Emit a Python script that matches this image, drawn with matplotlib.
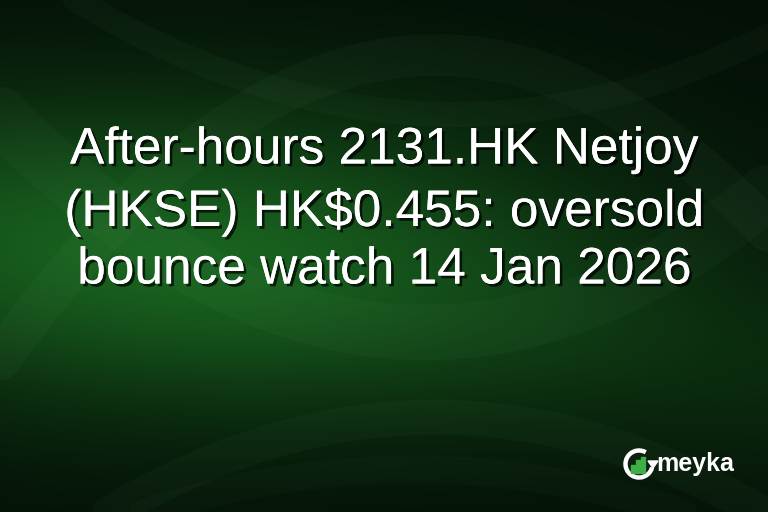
import numpy as np
import matplotlib
matplotlib.use("Agg")
import matplotlib.pyplot as plt
import matplotlib.patheffects as pe
from matplotlib.patches import Arc, Rectangle, Polygon

# Banner text
title_lines = ["After-hours 2131.HK Netjoy", "(HKSE) HK$0.455: oversold", "bounce watch 14 Jan 2026"]
title_y = [150, 212, 270]
brand = "meyka"
logo_bars = [0.45, 0.75, 0.95, 0.6]

W, H = 768, 512
fig = plt.figure(figsize=(W / 100, H / 100), dpi=100)
ax = fig.add_axes([0, 0, 1, 1])
ax.set_xlim(0, W)
ax.set_ylim(H, 0)
ax.axis("off")

# background gradient: dark top/bottom, green glow centre-left
yy, xx = np.mgrid[0:H, 0:W]
glow = np.exp(-((xx - 180) / 430.0) ** 2 - ((yy - 255) / 165.0) ** 2)
band = np.exp(-((yy - 0.18 * xx - 230) / 120.0) ** 2)
v = 0.6 * glow + 0.2 * band
v = np.clip(v, 0, 1)
dark = np.array([0.015, 0.06, 0.025])
green = np.array([0.12, 0.47, 0.15])
img = dark + v[..., None] * (green - dark)
ax.imshow(img, extent=[0, W, H, 0], aspect="auto", zorder=0)

# soft swooshes
xs = np.linspace(0, W, 300)
for a, b, c, lw, al in [(60, 0.0016, -0.9, 30, 0.035), (330, -0.0012, 0.55, 40, 0.03),
                        (420, 0.0009, -0.5, 25, 0.03), (110, -0.0008, 0.6, 18, 0.03),
                        (470, 0.0006, -0.2, 20, 0.025)]:
    ax.plot(xs, a + b * (xs - 380) ** 2 + c * (xs - 380) * 0.2, color="#9fe0a0",
            lw=lw, alpha=al, solid_capstyle="round", zorder=1)

# title text with shadow
for line, y in zip(title_lines, title_y):
    ax.text(W / 2, y, line, ha="center", va="center", color="white",
            fontsize=37, family="Liberation Sans", zorder=5,
            path_effects=[pe.withSimplePatchShadow(offset=(2, -2), shadow_rgbFace="black", alpha=0.7),
                          pe.Normal()])

# logo
cx, cy, r = 639, 464, 13.5
ax.add_patch(Arc((cx, cy), 2 * r, 2 * r, theta1=-345, theta2=-60, color="white", lw=3.2, zorder=6))
ax.add_patch(Polygon([[cx + 9, cy - 3], [cx + 19, cy - 3], [cx + 14, cy + 4]],
                     closed=True, color="white", zorder=6))
bw = 4.0
for i, h in enumerate(logo_bars[:3]):
    x0 = cx - 8 + i * (bw + 1.0)
    ax.add_patch(Rectangle((x0, cy + 9), bw, -17 * h, color="#3fae49", zorder=6))
ax.text(656, 464, brand, ha="left", va="center", color="white", fontsize=18,
        fontweight="bold", family="Liberation Sans", zorder=6)

fig.savefig("out.png", dpi=100)
